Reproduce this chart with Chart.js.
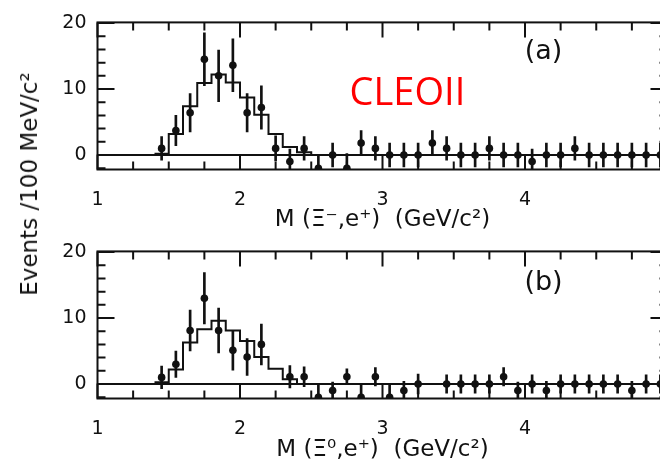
<!DOCTYPE html>
<html>
<head>
<meta charset="utf-8">
<script src="https://cdn.jsdelivr.net/npm/chart.js@4.4.0/dist/chart.umd.min.js"></script>
<style>
  html, body { margin: 0; padding: 0; background: #fff; overflow: hidden; }
  #wrap { position: relative; width: 660px; height: 459px; overflow: hidden; }
  canvas { position: absolute; left: 0; }
  #chartA { top: 0; }
  #chartB { top: 229px; }
  #ytitle {
    position: absolute; left: 29px; top: 184px;
    transform: translate(-50%, -50%) rotate(-90deg);
    font: 23px "DejaVu Sans"; color: #111; white-space: nowrap;
  }
</style>
</head>
<body>
<div id="wrap">
  <canvas id="chartA" width="700" height="229" style="width:700px;height:229px"></canvas>
  <canvas id="chartB" width="700" height="230" style="width:700px;height:230px"></canvas>
  <div id="ytitle">Events /100 MeV/c²</div>
</div>
<script>
'use strict';
// bin centres (100 MeV bins)
let massBins = [1.45, 1.55, 1.65, 1.75, 1.85, 1.95, 2.05, 2.15, 2.25, 2.35, 2.45, 2.55,
                2.65, 2.75, 2.85, 2.95, 3.05, 3.15, 3.25, 3.35, 3.45, 3.55, 3.65, 3.75,
                3.85, 3.95, 4.05, 4.15, 4.25, 4.35, 4.45, 4.55, 4.65, 4.75, 4.85, 4.95];

// (a) Xi- e+
let eventsA = [1, 3.7, 6.4, 14.5, 12, 13.6, 6.4, 7.2, 1, -1, 1, -2,
               0, -2, 1.8, 1, 0, 0, 0, 1.8, 1, 0, 0, 1,
               0, 0, -1, 0, 0, 1, 0, 0, 0, 0, 0, 0];
let errorsA = [1.8, 2.3, 2.9, 4, 3.9, 4, 2.9, 3.3, 1.9, 1.9, 1.8, 1.9,
               1.8, 2.2, 1.9, 1.8, 1.8, 1.8, 1.8, 1.9, 1.8, 1.8, 1.8, 1.8,
               1.8, 1.8, 1.9, 1.8, 1.8, 1.8, 1.8, 1.8, 1.8, 1.8, 1.8, 1.8];
let fitA = [0.2, 3.2, 7.4, 10.9, 12.2, 11, 8.7, 6.1, 3.2, 1.2, 0.4, 0,
            0, 0, 0, 0, 0, 0, 0, 0, 0, 0, 0, 0,
            0, 0, 0, 0, 0, 0, 0, 0, 0, 0, 0, 0];

// (b) Xi0 e+
let eventsB = [1, 3, 8.1, 13, 8.1, 5.1, 4.1, 6, null, 1.1, 1.1, -2,
               -1, 1.1, -2, 1.1, -2, -1, 0, null, 0, 0, 0, 0,
               1.1, -1, 0, -1, 0, 0, 0, 0, 0, -1, 0, 0];
let errorsB = [1.7, 2, 3.1, 3.9, 3.4, 3, 2.8, 3.1, 0, 1.7, 1.5, 2,
               1.3, 1.2, 2, 1.4, 2, 1.4, 1.5, 0, 1.4, 1.4, 1.4, 1.4,
               1.4, 1.3, 1.4, 1.4, 1.4, 1.4, 1.4, 1.4, 1.4, 1.4, 1.4, 1.4];
let fitB = [0.25, 2.2, 6.3, 8.3, 9.6, 8.1, 6.5, 4.1, 2.3, 0.7, 0, 0,
            0, 0, 0, 0, 0, 0, 0, 0, 0, 0, 0, 0,
            0, 0, 0, 0, 0, 0, 0, 0, 0, 0, 0, 0];

let xTicks = [1, 2, 3, 4, 5];
let xTickLabels = ['1', '2', '3', '4', '5'];
let yTicks = [0, 10, 20];
let yTickLabels = ['0', '10', '20'];

let ink = '#111';
let tickFont = { family: 'DejaVu Sans', size: 19 };

// box round the plot with inward tick marks, plus the text notes
const frameTicks = {
  id: 'frameTicks',
  afterDraw(chart, args, opts) {
    const { ctx, chartArea: a, scales: { x, y } } = chart;
    ctx.save();
    ctx.strokeStyle = ink;
    ctx.lineWidth = 2;
    ctx.strokeRect(a.left, a.top, a.right - a.left, a.bottom - a.top);
    ctx.beginPath();
    for (let v = 1; v <= 5.001; v += 0.25) {
      const px = x.getPixelForValue(v);
      const len = Math.abs(v - Math.round(v)) < 1e-6 ? 15 : 8;
      ctx.moveTo(px, a.top); ctx.lineTo(px, a.top + len);
      ctx.moveTo(px, a.bottom); ctx.lineTo(px, a.bottom - len);
    }
    for (let v = -2; v <= 20; v += 2) {
      const py = y.getPixelForValue(v);
      const len = v % 10 === 0 ? 17 : 8;
      ctx.moveTo(a.left, py); ctx.lineTo(a.left + len, py);
      ctx.moveTo(a.right, py); ctx.lineTo(a.right - len, py);
    }
    ctx.stroke();
    ctx.textAlign = 'center';
    ctx.textBaseline = 'alphabetic';
    for (const n of opts.notes) {
      ctx.font = n.font;
      ctx.fillStyle = n.color;
      ctx.fillText(n.text, x.getPixelForValue(n.x), y.getPixelForValue(n.y));
    }
    ctx.restore();
  }
};

function makeChart(id, events, errors, fit, xTitle, axisHeight, notes) {
  let points = [];
  let bars = [];
  let steps = [];
  for (let i = 0; i < massBins.length; i++) {
    if (events[i] === null) continue;
    points.push({ x: massBins[i], y: events[i] });
    bars.push({ x: massBins[i], y: [events[i] - errors[i], events[i] + errors[i]] });
  }
  // step outline: each bin's value held from its lower edge to the next
  for (let i = 0; i < massBins.length; i++) {
    steps.push({ x: massBins[i] - 0.05, y: fit[i] });
  }
  steps.push({ x: massBins[massBins.length - 1] + 0.05, y: fit[fit.length - 1] });

  let ctx = document.getElementById(id).getContext('2d');
  return new Chart(ctx, {
    type: 'scatter',
    data: {
      datasets: [
        { type: 'line', data: steps, stepped: 'before', borderColor: ink, borderWidth: 2,
          pointRadius: 0, fill: false, order: 3 },
        { type: 'bar', data: bars, backgroundColor: ink, barThickness: 2, grouped: false, order: 2 },
        { type: 'scatter', data: points, pointRadius: 3.8, backgroundColor: ink,
          borderWidth: 0, order: 1 }
      ]
    },
    options: {
      responsive: false,
      animation: false,
      devicePixelRatio: 1,
      layout: { padding: { top: 15.6, right: 32.5, left: 0, bottom: 0 } },
      plugins: {
        legend: { display: false },
        tooltip: { enabled: false },
        frameTicks: { notes: notes }
      },
      scales: {
        x: {
          type: 'linear', min: 1, max: 5, offset: false,
          grid: { display: false },
          border: { display: false },
          afterBuildTicks: s => { s.ticks = xTicks.map(v => ({ value: v })); },
          ticks: { callback: (v, i) => xTickLabels[i], font: tickFont, color: ink,
                   padding: 11, maxRotation: 0, autoSkip: false },
          title: { display: true, text: xTitle, font: { family: 'DejaVu Sans', size: 23 },
                   color: ink, padding: { top: 0, bottom: -5 } },
          afterFit: s => { s.height = axisHeight; }
        },
        y: {
          type: 'linear', min: -2.2, max: 20.1,
          grid: { drawTicks: false, lineWidth: 2,
                  color: c => (c.tick && c.tick.value === 0) ? ink : 'rgba(0,0,0,0)' },
          border: { display: false },
          afterBuildTicks: s => { s.ticks = yTicks.map(v => ({ value: v })); },
          ticks: { callback: (v, i) => yTickLabels[i], font: tickFont, color: ink, padding: 11 },
          afterFit: s => { s.width = 97.5; }
        }
      }
    },
    plugins: [frameTicks]
  });
}

makeChart('chartA', eventsA, errorsA, fitA, 'M (Ξ⁻,e⁺)  (GeV/c²)', 59.5, [
  { text: '(a)', x: 4.13, y: 14.6, font: '27px "DejaVu Sans"', color: ink },
  { text: 'CLEOII', x: 3.175, y: 7.6, font: '38px "Open Sans"', color: '#ff0000' }
]);
makeChart('chartB', eventsB, errorsB, fitB, 'M (Ξ⁰,e⁺)  (GeV/c²)', 60.5, [
  { text: '(b)', x: 4.13, y: 14.2, font: '27px "DejaVu Sans"', color: ink }
]);
</script>
</body>
</html>
